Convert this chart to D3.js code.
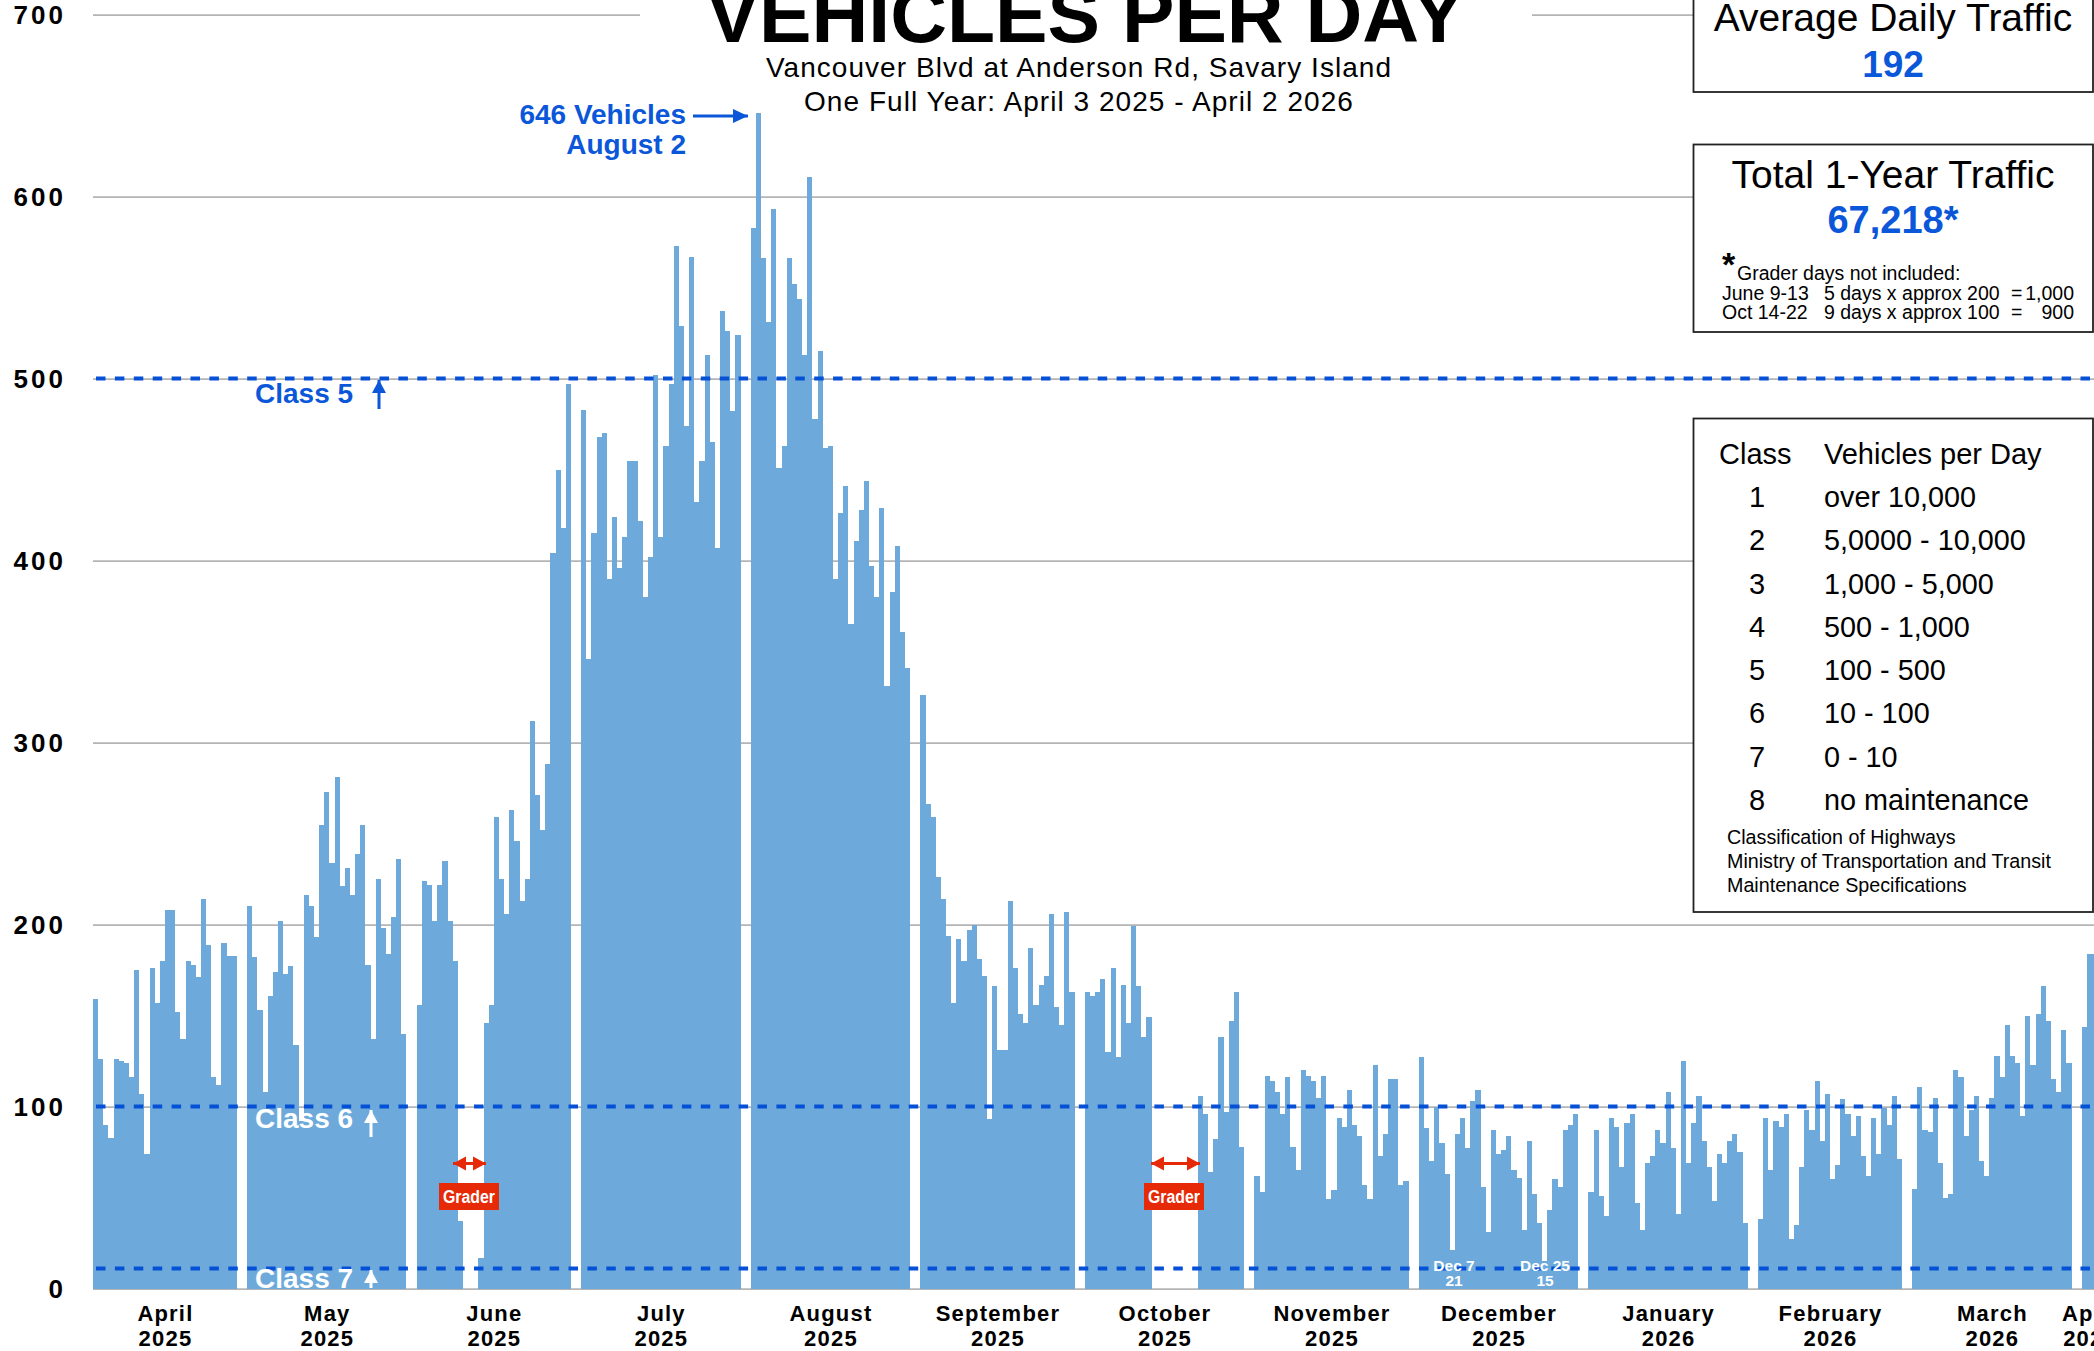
<!DOCTYPE html>
<html>
<head>
<meta charset="utf-8">
<script src="https://cdn.jsdelivr.net/npm/d3@7"></script>
<style>
html, body { margin:0; padding:0; background:#fff; overflow:hidden; }
svg { display:block; font-family:"Liberation Sans", Arial, sans-serif; }
</style>
</head>
<body>
<script>
// Daily counts, one array per month. null = grader days, no data
const apr25 = [159,126,90,83,126,125,124,116,175,107,74,176,157,180,208,208,152,137,180,178,171,214,189,116,112,190,183,183];
const may25 = [210,182,153,108,161,174,202,173,177,134,92,216,210,193,255,273,234,281,221,231,216,239,255,178,137,225,198,184,204,236,140];
const jun25 = [156,224,222,202,222,235,202,180,37,null,null,null,17,146,156,259,225,206,263,246,213,225,312,271,252,288,404,450,418,497];
const jul25 = [483,346,415,468,470,390,424,396,413,455,455,422,380,402,502,413,463,497,573,529,474,567,432,455,513,465,407,537,526,482,524];
const aug25 = [583,646,566,531,593,451,463,566,552,544,513,611,478,515,462,463,390,426,441,365,411,428,444,397,380,429,331,383,408,361,341];
const sep25 = [326,266,259,226,214,194,157,192,180,197,200,181,172,93,166,131,131,213,176,151,146,187,156,167,172,206,155,145,207,163];
const oct25 = [163,161,163,170,130,176,127,167,146,199,166,138,149,null,null,null,null,null,null,null,null,null,106,96,64,82,138,97,147,163,78];
const nov25 = [62,53,117,114,108,96,116,78,65,120,117,114,105,117,49,54,94,89,109,90,84,57,49,123,73,85,115,115,57,59];
const dec25 = [127,88,70,100,80,63,21,85,94,77,103,109,56,31,87,74,76,84,65,61,32,81,52,36,15,43,60,56,87,90,96];
const jan26 = [53,87,51,40,94,89,67,91,96,47,32,69,73,87,80,108,77,41,125,69,91,106,81,67,48,74,69,81,85,75,36];
const feb26 = [38,94,65,92,89,96,27,35,67,98,87,114,81,107,60,68,104,96,84,95,73,62,94,74,99,90,106,71];
const mar26 = [55,111,87,86,105,69,50,52,120,116,84,98,106,70,62,105,128,116,145,128,124,95,150,123,151,166,147,115,108,142,124];
const apr26 = [144,184,184];

const months = [apr25,may25,jun25,jul25,aug25,sep25,oct25,nov25,dec25,jan26,feb26,mar26,apr26];
const monthNames = ["April","May","June","July","August","September","October","November","December","January","February","March","April"];
const monthYears = ["2025","2025","2025","2025","2025","2025","2025","2025","2025","2026","2026","2026","2026"];

const yTicks = [0,100,200,300,400,500,600,700];
const classLines = [500,100,11];
const classRows = [["1","over 10,000"],["2","5,0000 - 10,000"],["3","1,000 - 5,000"],["4","500 - 1,000"],["5","100 - 500"],["6","10 - 100"],["7","0 - 10"],["8","no maintenance"]];
const sourceLines = ["Classification of Highways","Ministry of Transportation and Transit","Maintenance Specifications"];

const width = 2094;
const height = 1351;
const barColor = "#6daadb";
const blue = "#0b57d9";
const red = "#e62a07";
const monthGap = 2; // empty day slots between months

// flatten months into slots
let bars = [];
let monthCenters = [];
let slot = 0;
months.forEach(function(vals, m){
  monthCenters.push(slot + vals.length/2);
  vals.forEach(function(v){
    if (v !== null) bars.push({slot:slot, value:v});
    slot += 1;
  });
  slot += monthGap;
});
const lastSlot = slot - monthGap;

const svg = d3.select("body").append("svg")
  .attr("width", width)
  .attr("height", height);

const xScale = d3.scaleLinear()
  .domain([0, lastSlot])
  .range([93, 93 + lastSlot*5.139]);

const yScale = d3.scaleLinear()
  .domain([0, 700])
  .range([1288.6, 14.6]);

// y axis with gridlines
const yAxis = d3.axisLeft(yScale)
  .tickValues(yTicks)
  .tickSize(-(width-93))
  .tickPadding(27);

const yG = svg.append("g")
  .attr("transform","translate(93,0)")
  .call(yAxis);
yG.select(".domain").remove();
yG.selectAll("line").attr("stroke","#b4b4b4").attr("stroke-width",1.6);
yG.selectAll("text")
  .attr("font-family","'Liberation Sans'")
  .attr("font-size",26)
  .attr("font-weight","bold")
  .attr("letter-spacing",3)
  .attr("dy","0.36em")
  .attr("fill","#000");

// white block behind the title cuts the 700 gridline
svg.append("rect").attr("x",640).attr("y",0).attr("width",892).attr("height",60).attr("fill","#fff");

// bars
svg.selectAll("rect.bar")
  .data(bars)
  .enter()
  .append("rect")
  .attr("class","bar")
  .attr("shape-rendering","crispEdges")
  .attr("x",function(d){ return Math.round(xScale(d.slot)); })
  .attr("width",function(d){ return Math.round(xScale(d.slot+1))-Math.round(xScale(d.slot)); })
  .attr("y",function(d){ return yScale(d.value); })
  .attr("height",function(d){ return yScale(0)-yScale(d.value); })
  .attr("fill",barColor);

// class threshold lines
svg.selectAll("line.cls")
  .data(classLines)
  .enter()
  .append("line")
  .attr("class","cls")
  .attr("x1",96)
  .attr("x2",width)
  .attr("y1",function(d){ return yScale(d); })
  .attr("y2",function(d){ return yScale(d); })
  .attr("stroke","#0450d6")
  .attr("stroke-width",4)
  .attr("stroke-dasharray","9.5 9.4");

// x axis, month labels on two lines
const xAxis = d3.axisBottom(xScale)
  .tickValues(monthCenters)
  .tickSize(0)
  .tickFormat(function(d,i){ return monthNames[i]; });

const xG = svg.append("g")
  .attr("transform","translate(0,1288.6)")
  .call(xAxis);
xG.select(".domain").remove();
xG.selectAll("text")
  .attr("font-family","'Liberation Sans'")
  .attr("font-size",22)
  .attr("font-weight","bold")
  .attr("letter-spacing",1.2)
  .attr("fill","#000")
  .attr("y",32)
  .attr("dy",0)
  .each(function(d,i){
    d3.select(this).append("tspan")
      .attr("x",0)
      .attr("y",57.8)
      .text(monthYears[i]);
  });

function label(x, y, txt, size, opts){
  opts = opts || {};
  const t = svg.append("text")
    .attr("x",x).attr("y",y)
    .attr("font-size",size)
    .attr("font-weight",opts.weight || "normal")
    .attr("fill",opts.fill || "#000")
    .attr("text-anchor",opts.anchor || "start")
    .text(txt);
  if (opts.spacing) t.attr("letter-spacing",opts.spacing);
  return t;
}

// arrow: line with a triangular head at (x2,y2), optional head at both ends
function arrow(x1, y1, x2, y2, color, lw, hl, hw, both){
  const a = Math.atan2(y2-y1, x2-x1);
  function head(px, py, ang){
    const bx = px - hl*Math.cos(ang), by = py - hl*Math.sin(ang);
    const nx = -Math.sin(ang)*hw, ny = Math.cos(ang)*hw;
    svg.append("path")
      .attr("d","M"+px+","+py+"L"+(bx+nx)+","+(by+ny)+"L"+(bx-nx)+","+(by-ny)+"Z")
      .attr("fill",color);
  }
  svg.append("line").attr("x1",x1).attr("y1",y1).attr("x2",x2).attr("y2",y2)
    .attr("stroke",color).attr("stroke-width",lw);
  head(x2,y2,a);
  if (both) head(x1,y1,a+Math.PI);
}

// title
label(1085.5,42,"VEHICLES PER DAY",78.7,{weight:"bold",anchor:"middle"});
label(1079,77,"Vancouver Blvd at Anderson Rd, Savary Island",28,{anchor:"middle",spacing:1.05});
label(1079,111,"One Full Year: April 3 2025 - April 2 2026",28,{anchor:"middle",spacing:1.05});

// peak annotation
label(686,124,"646 Vehicles",28,{weight:"bold",fill:blue,anchor:"end"});
label(686,154,"August 2",28,{weight:"bold",fill:blue,anchor:"end"});
arrow(693,116,748,116,blue,3,15,7);

// class labels
label(255,403,"Class 5",28,{weight:"bold",fill:blue});
arrow(379,409,379,380,blue,3,13,7);
label(255,1127.6,"Class 6",28,{weight:"bold",fill:"#fff"});
arrow(371,1137,371,1110,"#fff",3,13,7);
label(255,1288,"Class 7",28,{weight:"bold",fill:"#fff"});
arrow(371,1288,371,1270,"#fff",3,13,7);

// low days
label(1454,1271,"Dec 7",15.5,{weight:"bold",fill:"#fff",anchor:"middle"});
label(1454,1286,"21",15.5,{weight:"bold",fill:"#fff",anchor:"middle"});
label(1545,1271,"Dec 25",15.5,{weight:"bold",fill:"#fff",anchor:"middle"});
label(1545,1286,"15",15.5,{weight:"bold",fill:"#fff",anchor:"middle"});

// grader flags
function grader(x1, x2, bx){
  arrow(x1,1163.5,x2,1163.5,red,3,13,7,true);
  svg.append("rect").attr("x",bx).attr("y",1183).attr("width",60).attr("height",27).attr("fill",red);
  label(bx+30,1202.5,"Grader",18,{weight:"bold",fill:"#fff",anchor:"middle"}).attr("textLength",52).attr("lengthAdjust","spacingAndGlyphs");
}
grader(453,486,439);
grader(1151,1200,1144);

// info boxes
function box(y, h){
  svg.append("rect").attr("x",1693.5).attr("y",y).attr("width",399.5).attr("height",h)
    .attr("fill","#fff").attr("stroke","#222").attr("stroke-width",1.8);
}
box(-10,102);
label(1893,31,"Average Daily Traffic",39,{anchor:"middle"});
label(1893,77,"192",37,{weight:"bold",fill:blue,anchor:"middle"});

box(144.5,187.5);
label(1893,188,"Total 1-Year Traffic",39,{anchor:"middle"});
label(1893,233,"67,218*",38,{weight:"bold",fill:blue,anchor:"middle"});
label(1722,276,"*",34,{weight:"bold"});
label(1737,280,"Grader days not included:",19.5);
label(1722,300,"June 9-13",19.5);
label(1824,300,"5 days x approx 200",19.5);
label(2011,300,"=",19.5);
label(2074,300,"1,000",19.5,{anchor:"end"});
label(1722,319,"Oct 14-22",19.5);
label(1824,319,"9 days x approx 100",19.5);
label(2011,319,"=",19.5);
label(2074,319,"900",19.5,{anchor:"end"});

box(418.5,493.5);
label(1719,464,"Class",29);
label(1824,464,"Vehicles per Day",29);
const rowY = d3.scaleLinear().domain([0,7]).range([507,810]);
classRows.forEach(function(r,i){
  label(1757,rowY(i),r[0],29,{anchor:"middle"});
  label(1824,rowY(i),r[1],28.8);
});
sourceLines.forEach(function(s,i){
  label(1727,844+i*24,s,19.7);
});
</script>
</body>
</html>
